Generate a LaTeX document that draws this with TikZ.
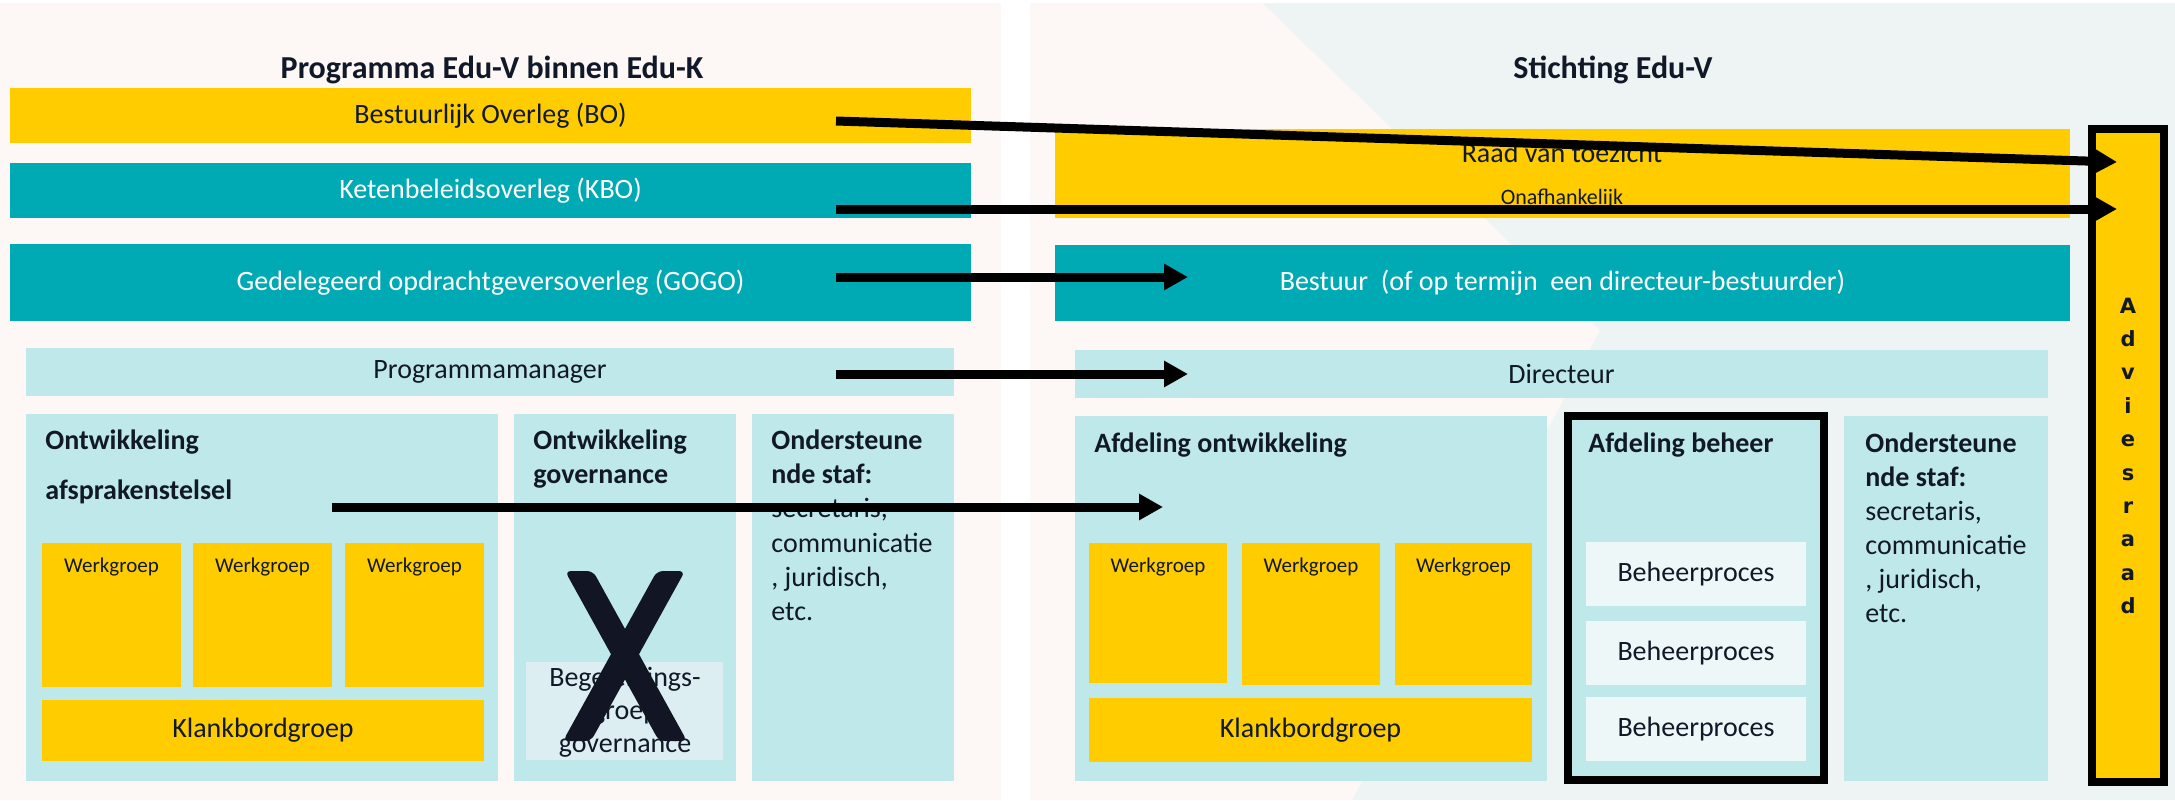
\documentclass[tikz,border=0pt]{standalone}
\usepackage{fontspec}
\setmainfont{Carlito}
\newfontfamily\advfont{DejaVu Sans}
\usetikzlibrary{arrows.meta,fit}
\definecolor{eduyellow}{HTML}{FFCC00}
\definecolor{eduteal}{HTML}{00AAB4}
\definecolor{edulight}{HTML}{BFE8EA}
\definecolor{edupale}{HTML}{EEF7F8}
\definecolor{edubeg}{HTML}{DDEEF2}
\definecolor{bgpink}{HTML}{FDF8F6}
\definecolor{bggrey}{HTML}{EEF4F4}
\definecolor{textdark}{HTML}{111827}
\definecolor{xcol}{HTML}{111524}
\begin{document}
\begin{tikzpicture}[x=0.5pt,y=-0.5pt,
  box/.style={inner sep=0pt, outer sep=0pt, draw=none},
  yel/.style={box, fill=eduyellow},
  teal/.style={box, fill=eduteal},
  light/.style={box, fill=edulight},
  pale/.style={box, fill=edupale},
  framed/.style={box, draw=black, line width=4pt},
  txt/.style={inner sep=0pt, text=textdark, font=\fontsize{14}{16}\selectfont},
  wtxt/.style={inner sep=0pt, text=white, font=\fontsize{14}{16}\selectfont},
  small/.style={inner sep=0pt, text=textdark, font=\fontsize{10.5}{12}\selectfont},
  hdr/.style={inner sep=0pt, text=textdark, font=\bfseries\fontsize{14}{16}\selectfont, anchor=base west},
  line/.style={inner sep=0pt, text=textdark, font=\fontsize{14}{16}\selectfont, anchor=base west},
  ttl/.style={inner sep=0pt, text=textdark, font=\bfseries\fontsize{16}{18}\selectfont},
  adv/.style={inner sep=0pt, text=textdark, font=\advfont\bfseries\fontsize{10.5}{12}\selectfont, anchor=base},
  arr/.style={line width=4.5pt, draw=black, -{Triangle[length=12pt,width=12.5pt]}}
]
\useasboundingbox (0,0) rectangle (2175,800);
\fill[white] (0,0) rectangle (2175,800);
% backgrounds
\fill[bgpink] (0,3) rectangle (1001,800);
\fill[bggrey] (1030,3) rectangle (2175,800);
\fill[bgpink] (1030,3) -- (1262,3) -- (1600,330) -- (1352,800) -- (1030,800) -- cycle;

% titles
\node[ttl] (titleL) at (492,70) {Programma Edu-V binnen Edu-K};
\node[ttl] (titleR) at (1613,70) {Stichting Edu-V};

% ---------------- left side ----------------
\node[yel, fit={(10,88) (971,143)}] (bo) {};
\node[txt] (boT) at (bo.center) {Bestuurlijk Overleg (BO)};
\node[teal, fit={(10,163) (971,218)}] (kbo) {};
\node[wtxt] (kboT) at (kbo.center) {Ketenbeleidsoverleg (KBO)};
\node[teal, fit={(10,244) (971,321)}] (gogo) {};
\node[wtxt] (gogoT) at (gogo.center) {Gedelegeerd opdrachtgeversoverleg (GOGO)};
\node[light, fit={(26,348) (954,396)}] (pm) {};
\node[txt] (pmT) at (pm.center) {Programmamanager};

\node[light, fit={(26,414) (498,781)}] (oas) {};
\node[hdr] (oasT1) at (45,449) {Ontwikkeling};
\node[hdr] (oasT2) at (45,499) {afsprakenstelsel};
\node[yel, fit={(42,543) (181,687)}] (wgL1) {};
\node[yel, fit={(193,543) (332,687)}] (wgL2) {};
\node[yel, fit={(345,543) (484,687)}] (wgL3) {};
\node[small, anchor=base] (wgL1T) at (111.5,572) {Werkgroep};
\node[small, anchor=base] (wgL2T) at (262.5,572) {Werkgroep};
\node[small, anchor=base] (wgL3T) at (414.5,572) {Werkgroep};
\node[yel, fit={(42,700) (484,761)}] (kbL) {};
\node[txt] (kbLT) at (kbL.center) {Klankbordgroep};

\node[light, fit={(514,414) (736,781)}] (ogov) {};
\node[hdr] (ogovT1) at (533,449) {Ontwikkeling};
\node[hdr] (ogovT2) at (533,483) {governance};
\node[box, fill=edubeg, fit={(526,662) (723,760)}] (beg) {};
\node[txt, anchor=base] (begT1) at (625,686) {Begeleidings-};
\node[txt, anchor=base] (begT2) at (625,719) {groep};
\node[txt, anchor=base] (begT3) at (625,752) {governance};
% big X
\fill[xcol, rounded corners=3pt] (565,571) -- (593,571) -- (687,741) -- (659,741) -- cycle;
\fill[xcol, rounded corners=3pt] (657,571) -- (685,571) -- (591,741) -- (563,741) -- cycle;

\node[light, fit={(752,414) (954,781)}] (osL) {};
\node[hdr] (osL1) at (771,449) {Ondersteune};
\node[hdr] (osL2) at (771,483) {nde staf:};
\node[line] (osL3) at (771,517) {secretaris,};
\node[line] (osL4) at (771,552) {communicatie};
\node[line] (osL5) at (771,586) {, juridisch,};
\node[line] (osL6) at (771,620) {etc.};

% ---------------- right side ----------------
\node[yel, fit={(1055,129) (2070,218)}] (rvt) {};
\node[txt] (rvtT) at (1562,153) {Raad van toezicht};
\node[inner sep=0pt, text=textdark, font=\fontsize{11}{13}\selectfont] (rvtO) at (1562,199) {Onafhankelijk};
\node[teal, fit={(1055,245) (2070,321)}] (best) {};
\node[wtxt] (bestT) at (best.center) {Bestuur\ \ (of op termijn\ \ een directeur-bestuurder)};
\node[light, fit={(1075,350) (2048,398)}] (dir) {};
\node[txt] (dirT) at (dir.center) {Directeur};

\node[light, fit={(1075,416) (1547,781)}] (ao) {};
\node[hdr] (aoT) at (1094,452) {Afdeling ontwikkeling};
\node[yel, fit={(1089,543) (1227,683)}] (wgR1) {};
\node[yel, fit={(1242,543) (1380,685)}] (wgR2) {};
\node[yel, fit={(1395,543) (1532,685)}] (wgR3) {};
\node[small, anchor=base] (wgR1T) at (1158,572) {Werkgroep};
\node[small, anchor=base] (wgR2T) at (1311,572) {Werkgroep};
\node[small, anchor=base] (wgR3T) at (1463.5,572) {Werkgroep};
\node[yel, fit={(1089,698) (1532,762)}] (kbR) {};
\node[txt] (kbRT) at (kbR.center) {Klankbordgroep};

\node[light, framed, fit={(1568,416) (1824,780)}] (ab) {};
\node[hdr] (abT) at (1588,452) {Afdeling beheer};
\node[pale, fit={(1586,542) (1806,606)}] (bp1) {};
\node[pale, fit={(1586,621) (1806,685)}] (bp2) {};
\node[pale, fit={(1586,697) (1806,761)}] (bp3) {};
\node[txt] (bp1T) at (bp1.center) {Beheerproces};
\node[txt] (bp2T) at (bp2.center) {Beheerproces};
\node[txt] (bp3T) at (bp3.center) {Beheerproces};

\node[light, fit={(1844,416) (2048,781)}] (osR) {};
\node[hdr] (osR1) at (1865,452) {Ondersteune};
\node[hdr] (osR2) at (1865,486) {nde staf:};
\node[line] (osR3) at (1865,520) {secretaris,};
\node[line] (osR4) at (1865,554) {communicatie};
\node[line] (osR5) at (1865,588) {, juridisch,};
\node[line] (osR6) at (1865,622) {etc.};

% Adviesraad
\node[yel, framed, fit={(2092,129) (2164,782)}] (advr) {};
\foreach \l [count=\i from 0] in {A,d,v,i,e,s,r,a,a,d} {
  \node[adv] (advL\i) at (2128,{313+33.4*\i}) {\l};
}

% arrow coordinates
\coordinate (boS) at (836,121);
\coordinate (boE) at (2117,162);
\coordinate (kboS) at (836,209);
\coordinate (kboE) at (2117,209);
\coordinate (gogoS) at (836,277);
\coordinate (gogoE) at (1188,277);
\coordinate (pmS) at (836,374);
\coordinate (pmE) at (1188,374);
\coordinate (oasS) at (332,507);
\coordinate (oasE) at (1163,507);

\draw[arr] (boS) -- (boE);
\draw[arr] (kboS) -- (kboE);
\draw[arr] (gogoS) -- (gogoE);
\draw[arr] (pmS) -- (pmE);
\draw[arr] (oasS) -- (oasE);
\end{tikzpicture}
\end{document}
